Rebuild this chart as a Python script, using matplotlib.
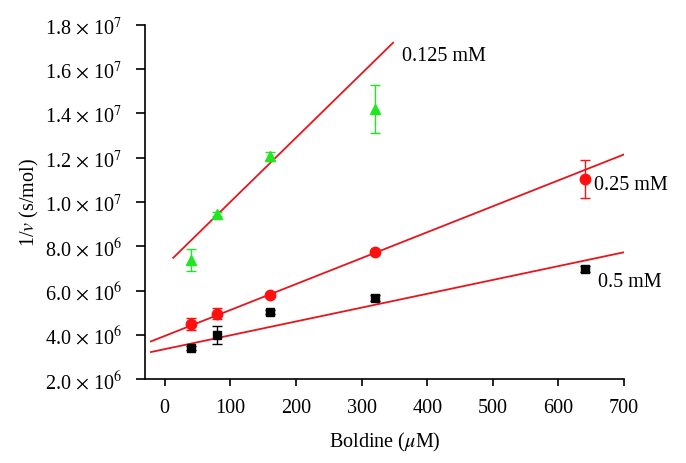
import matplotlib
matplotlib.use("Agg")
import matplotlib.pyplot as plt
import numpy as np
from matplotlib.ticker import FuncFormatter

plt.rcParams['font.family'] = ['Liberation Serif', 'DejaVu Serif']
plt.rcParams['mathtext.fontset'] = 'stix'

# Data
boldine = [40, 80, 160, 320, 640]
g_x = [40, 80, 160, 320]
g_y = [7.38e6, 9.47e6, 1.207e7, 1.42e7]
g_err = [0.51e6, 0.1e6, 0.2e6, 1.1e6]
r_y = [4.50e6, 4.94e6, 5.79e6, 7.75e6, 1.103e7]
r_err = [0.27e6, 0.25e6, 0.08e6, 0.1e6, 0.87e6]
k_y = [3.40e6, 4.00e6, 5.02e6, 5.66e6, 6.98e6]
k_err = [0.08e6, 0.4e6, 0.08e6, 0.15e6, 0.15e6]

# Fit lines: slope, intercept, x-range
g_fit = (29015, 7.10e6, 13, 348)
r_fit = (11720, 3.946e6, -21, 700)
k_fit = (6255, 3.35e6, -21, 700)

labels = ['0.125 mM', '0.25 mM', '0.5 mM']

FS = 14.5

fig = plt.figure(figsize=(6.86, 4.64), dpi=100)
ax = fig.add_axes([0.2114, 0.181, 0.6983, 0.763])

for (s, b, x0, x1) in [g_fit, r_fit, k_fit]:
    xs = np.array([x0, x1])
    ax.plot(xs, s * xs + b, color='#e8141c', lw=1.3, zorder=2)

ax.errorbar(g_x, g_y, yerr=g_err, fmt='^', color='#22e622', ms=7.5,
            capsize=3.5, elinewidth=1, capthick=1, zorder=3)
ax.errorbar(boldine, r_y, yerr=r_err, fmt='o', color='#ff1010', ms=7.5,
            capsize=3.5, elinewidth=1, capthick=1, zorder=3)
ax.errorbar(boldine, k_y, yerr=k_err, fmt='s', color='black', ms=5.5,
            capsize=3.5, elinewidth=1, capthick=1, zorder=3)

ax.text(362, 1.663e7, labels[0], fontsize=FS, va='center', ha='left')
ax.text(654, 1.081e7, labels[1], fontsize=FS, va='center', ha='left')
ax.text(660, 6.39e6, labels[2], fontsize=FS, va='center', ha='left')

ax.set_xlim(-30, 700)
ax.set_ylim(2e6, 1.8e7)
ax.set_xticks(np.arange(0, 701, 100))
ax.set_yticks(np.arange(2e6, 1.81e7, 2e6))

def fmt(v, pos):
    e = int(np.floor(np.log10(v)))
    m = v / 10**e
    return f"{m:.1f} $\\times$ 10$^{{{e}}}$"

ax.yaxis.set_major_formatter(FuncFormatter(fmt))
ax.tick_params(axis='both', labelsize=FS, direction='out', width=1.2)
ax.tick_params(axis='y', length=6.5, pad=10)
ax.tick_params(axis='x', length=5, pad=9)

for sp in ['top', 'right']:
    ax.spines[sp].set_visible(False)
for sp in ['left', 'bottom']:
    ax.spines[sp].set_linewidth(1.2)

ax.set_xlabel('Boldine ($\\mu$M)', fontsize=FS, labelpad=9)
ax.set_ylabel('1/$v$ (s/mol)', fontsize=FS)
ax.yaxis.set_label_coords(-0.217, 0.5)

fig.savefig('out.png', dpi=100)
